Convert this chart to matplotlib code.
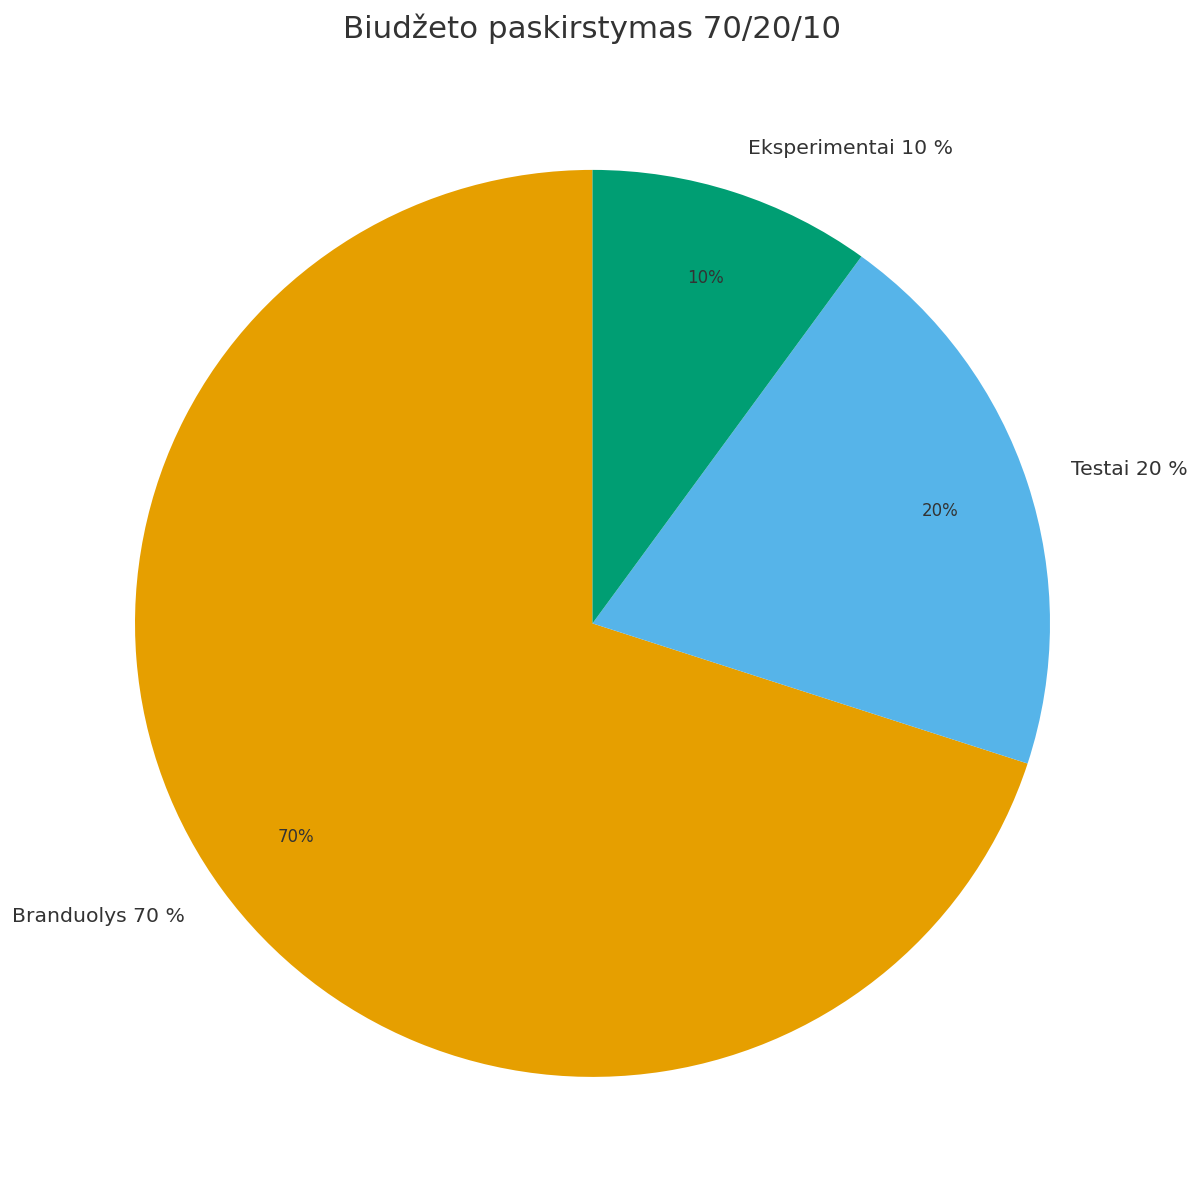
import matplotlib.pyplot as plt

labels = ['Branduolys 70 %', 'Testai 20 %', 'Eksperimentai 10 %']
values = [70, 20, 10]
colors = ['#E69F00', '#56B4E9', '#009E73']

fig = plt.figure(figsize=(12, 12), dpi=100)
ax = fig.add_axes([0.0172, 0.0081, 0.9531, 0.9448])

wedges, texts, autotexts = ax.pie(values, labels=labels, colors=colors,
                                  startangle=90, autopct='%1.0f%%',
                                  pctdistance=0.8, labeldistance=1.1,
                                  textprops={'color': '#333333', 'fontsize': 14.7})
for t in autotexts:
    t.set_fontsize(12)
ax.set_aspect('auto')

ax.set_title('Biudžeto paskirstymas 70/20/10', fontsize=22.2, color='#333333', pad=13)

fig.savefig('out.png', dpi=100)
